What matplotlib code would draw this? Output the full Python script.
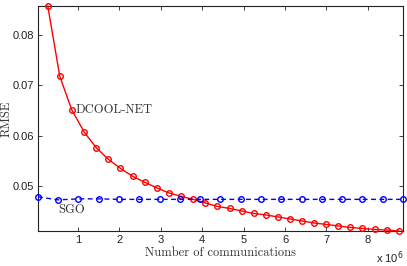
import matplotlib
matplotlib.use('Agg')
import matplotlib.pyplot as plt

# ---- data (x in units of 1e6 communications) ----
x_dcool = [0.27, 0.56, 0.85, 1.15, 1.44, 1.73, 2.02, 2.32, 2.61, 2.90,
           3.19, 3.49, 3.78, 4.07, 4.36, 4.66, 4.95, 5.24, 5.53, 5.83,
           6.12, 6.41, 6.70, 7.00, 7.29, 7.58, 7.87, 8.17, 8.46, 8.75]
rmse_dcool = [0.0858, 0.0718, 0.0651, 0.0607, 0.0576, 0.0553, 0.0535, 0.0519,
              0.0507, 0.0496, 0.0486, 0.0479, 0.0473, 0.0466, 0.0459, 0.0455,
              0.0450, 0.0445, 0.0442, 0.0438, 0.0434, 0.0430, 0.0426, 0.0423,
              0.0420, 0.0417, 0.0415, 0.0413, 0.0412, 0.0410]

x_sgo = [0.034, 0.52, 1.01, 1.50, 1.99, 2.48, 2.97, 3.46, 3.95, 4.44,
         4.93, 5.42, 5.91, 6.40, 6.89, 7.38, 7.87, 8.36, 8.85]
rmse_sgo = [0.0478, 0.0472, 0.0474, 0.0474, 0.0473, 0.0473, 0.0473, 0.0473,
            0.0473, 0.0473, 0.0473, 0.0473, 0.0473, 0.0473, 0.0473, 0.0473,
            0.0473, 0.0473, 0.0473]

xticks = [1, 2, 3, 4, 5, 6, 7, 8]
yticks = [0.05, 0.06, 0.07, 0.08]

# ---- figure ----
fig = plt.figure(figsize=(4.07, 2.66), dpi=100)
ax = fig.add_axes([38 / 407, 35 / 266, 365 / 407, 225 / 266])

ax.plot(x_dcool, rmse_dcool, color='#ff0000', lw=1.0, marker='o', ms=4,
        mfc='none', mec='#ff0000', mew=1.0, clip_on=False, zorder=3)
ax.plot(x_sgo, rmse_sgo, color='#0000ff', lw=1.0, ls=(0, (3.5, 2.5)),
        marker='o', ms=4, mfc='none', mec='#0000ff', mew=1.0,
        clip_on=False, zorder=3)

ax.set_xlim(x_sgo[0], x_sgo[-1])
ax.set_ylim(min(rmse_dcool), max(rmse_dcool))
ax.set_xticks(xticks)
ax.set_yticks(yticks)
ax.set_xticklabels([str(t) for t in xticks])
ax.set_yticklabels(['%.2f' % t for t in yticks])

lab_font = dict(family='cmr10', size=9, color='#333333')
ax.set_xlabel('Number of communications', fontdict=lab_font, labelpad=1)
ax.set_ylabel('RMSE', fontdict=lab_font, va='center')
ax.yaxis.set_label_coords(-0.086, 0.5)

ax.text(0.93, 0.0651, 'DCOOL-NET', fontdict=lab_font, ha='left', va='center')
ax.text(0.52, 0.0452, 'SGO', fontdict=lab_font, ha='left', va='center')

ax.tick_params(direction='in', top=True, right=True, length=3, width=0.6,
               labelsize=8, colors='#222222', pad=3)
for lbl in ax.get_xticklabels() + ax.get_yticklabels():
    lbl.set_family('Liberation Sans')
for s in ax.spines.values():
    s.set_linewidth(0.8)
    s.set_color('#222222')

fig.text(404 / 407, 1 - 258 / 266, r'x 10$^{6}$', ha='right', va='center',
         fontsize=8, family='Liberation Sans', color='#222222')

fig.savefig('out.png', dpi=100)
